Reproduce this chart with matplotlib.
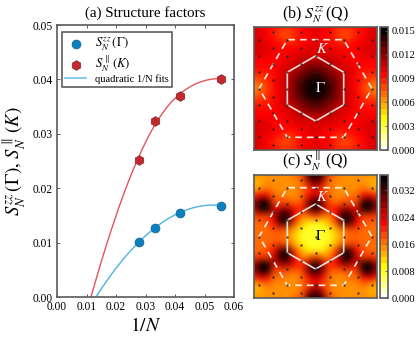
import numpy as np
import matplotlib
matplotlib.use('Agg')
import matplotlib.pyplot as plt
from matplotlib.lines import Line2D

plt.rcParams['font.family'] = ['Liberation Serif', 'DejaVu Serif']
plt.rcParams['mathtext.fontset'] = 'stix'

inv_n = [0.0278, 0.0333, 0.0417, 0.0556]
s_zz = [0.0101, 0.0127, 0.0155, 0.0168]
s_par = [0.0252, 0.0323, 0.0370, 0.0400]
fit_zz_x = [0.0132, 0.015, 0.017, 0.019, 0.021, 0.023, 0.025, 0.027, 0.029, 0.031, 0.033, 0.035,
            0.037, 0.039, 0.041, 0.043, 0.045, 0.047, 0.049, 0.051, 0.053, 0.0556]
fit_zz_y = [0.0, 0.00149, 0.00307, 0.00457, 0.00597, 0.0073, 0.00853, 0.00969, 0.01075, 0.01174,
            0.01263, 0.01344, 0.01417, 0.01481, 0.01536, 0.01583, 0.01622, 0.01652, 0.01673,
            0.01686, 0.0169, 0.01683]
fit_par_x = [0.0115, 0.013, 0.015, 0.017, 0.019, 0.021, 0.023, 0.025, 0.027, 0.029, 0.031, 0.033,
             0.035, 0.037, 0.039, 0.041, 0.043, 0.045, 0.047, 0.049, 0.051, 0.053, 0.0556]
fit_par_y = [0.0, 0.0028, 0.0065, 0.0100, 0.0133, 0.0165, 0.0195, 0.0223, 0.0249, 0.0273, 0.0295,
             0.0315, 0.0332, 0.0347, 0.0360, 0.0370, 0.0379, 0.0386, 0.0392, 0.0396, 0.0399,
             0.0401, 0.0401]

# one quadrant of each map, in units of 0.001: row = |qy|, column = |qx|
map_b = [
    [15.5, 15.2, 14.2, 12.8, 11.4, 10.3, 9.3, 8.3, 7.3, 6.8],
    [15.2, 14.8, 13.9, 12.6, 11.3, 10.3, 9.4, 8.6, 7.8, 7.3],
    [14.2, 13.8, 13.0, 12.0, 11.0, 10.2, 9.6, 9.2, 8.8, 8.6],
    [12.8, 12.5, 12.0, 11.3, 10.6, 10.1, 9.8, 9.7, 9.6, 9.5],
    [11.4, 11.3, 11.0, 10.6, 10.2, 10.0, 9.9, 9.9, 9.9, 9.9],
    [10.4, 10.3, 10.2, 10.1, 9.9, 9.8, 9.9, 10.1, 10.2, 10.2],
    [10.2, 10.1, 10.0, 9.8, 9.4, 9.4, 9.7, 10.1, 10.3, 10.4],
    [10.1, 10.0, 9.6, 8.9, 8.2, 8.6, 9.3, 9.9, 10.3, 10.4],
    [10.2, 10.0, 9.5, 8.7, 7.8, 8.4, 9.2, 9.9, 10.3, 10.4],
    [10.3, 10.2, 9.8, 9.2, 8.7, 9.0, 9.5, 10.0, 10.3, 10.4],
]
map_c = [
    [7.5, 7.5, 9.0, 12.0, 16.0, 18.0, 18.0, 17.5, 17.0, 17.0],
    [7.5, 8.0, 10.0, 13.0, 17.0, 19.0, 18.5, 18.0, 17.5, 17.0],
    [9.0, 10.0, 13.0, 19.0, 32.0, 34.0, 22.0, 18.5, 18.0, 17.5],
    [21.0, 18.0, 15.5, 22.0, 37.0, 40.0, 26.0, 20.0, 21.0, 18.5],
    [36.0, 28.0, 21.0, 23.0, 29.0, 29.0, 23.0, 36.0, 39.0, 26.0],
    [40.0, 30.0, 20.0, 18.0, 19.0, 19.0, 20.0, 36.0, 39.0, 27.0],
    [27.0, 22.0, 18.0, 16.0, 16.0, 16.5, 18.0, 22.0, 24.0, 21.0],
    [24.0, 20.0, 17.0, 15.5, 15.0, 15.5, 16.0, 17.0, 15.0, 14.0],
    [32.0, 26.0, 18.0, 16.0, 15.0, 15.0, 15.0, 15.0, 14.0, 13.5],
    [42.0, 33.0, 20.0, 17.0, 16.0, 16.0, 16.0, 15.0, 15.0, 15.0],
]
vmax_b = 0.0155
vmax_c = 0.0365
ticks_b = [0.000, 0.003, 0.006, 0.009, 0.012, 0.015]
ticks_c = [0.000, 0.008, 0.016, 0.024, 0.032]
x_ticks = [0.00, 0.01, 0.02, 0.03, 0.04, 0.05, 0.06]
y_ticks = [0.00, 0.01, 0.02, 0.03, 0.04, 0.05]

W, H = 416, 341
def box(x0, y0, x1, y1):
    return [x0 / W, 1 - y1 / H, (x1 - x0) / W, (y1 - y0) / H]

SPINE = '#5a5a5a'
fig = plt.figure(figsize=(4.16, 3.41), dpi=100)

ax = fig.add_axes(box(57, 25, 234, 297))
BLUE, RED = '#0a7fc2', '#c5282f'
ax.plot(fit_zz_x, fit_zz_y, color='#4db3e0', lw=1.0, zorder=2)
ax.plot(fit_par_x, fit_par_y, color='#e0555c', lw=1.0, zorder=2)
ax.plot(inv_n, s_zz, 'o', ms=6.4, mfc=BLUE, mec='#1c5f86', mew=0.5, zorder=3)
ax.plot(inv_n, s_par, 'h', ms=7.0, mfc=RED, mec='#7d2a2e', mew=0.5, zorder=3)
ax.set_xlim(0, 0.06)
ax.set_ylim(0, 0.05)
ax.set_xticks(x_ticks)
ax.set_yticks(y_ticks)
ax.set_xticklabels(['%.2f' % v for v in x_ticks])
ax.set_yticklabels(['%.2f' % v for v in y_ticks])
ax.tick_params(direction='in', top=True, right=True, length=2.5, width=0.7,
               color=SPINE, labelsize=8.3, pad=3)
for s in ax.spines.values():
    s.set_color(SPINE)
    s.set_linewidth(1.2)
ax.set_xlabel(r'$1/N$', fontsize=14, labelpad=3)
ax.set_ylabel(r'$S_N^{zz}\,(\Gamma),\,S_N^{\parallel}\,(K)$', fontsize=13.5, labelpad=3)
ax.set_title('(a) Structure factors', fontsize=10.8, pad=6)
handles = [
    Line2D([], [], ls='', marker='o', ms=6.4, mfc=BLUE, mec='#1c5f86', mew=0.5),
    Line2D([], [], ls='', marker='h', ms=7.0, mfc=RED, mec='#7d2a2e', mew=0.5),
    Line2D([], [], color='#7cc7ea', lw=1.3),
]
leg = ax.legend(handles, [r'$S_N^{zz}\,(\Gamma)$', r'$S_N^{\parallel}\,(K)$', 'quadratic 1/N fits'],
                loc='upper left', bbox_to_anchor=(0.028, 0.973), borderaxespad=0,
                fontsize=7.6, fancybox=False, framealpha=1, edgecolor='#505050',
                handlelength=2.0, labelspacing=0.05, borderpad=0.3, handletextpad=0.85)
leg.get_frame().set_linewidth(1.1)
for t in leg.get_texts()[:2]:
    t.set_fontsize(9.2)

HALF = 3.78
STEP = HALF / 9
R_IN = 2.0
R_OUT = 2.0 * np.sqrt(3)

def unfold(q):
    q = np.array(q) * 0.001
    q = np.hstack([q[:, :0:-1], q])
    return np.vstack([q[:0:-1], q])

def heat(box_px, cbox_px, quad, vmax, ticks, title, gamma_col, kpos):
    a = fig.add_axes(box(*box_px))
    cmap = plt.get_cmap('hot_r', 20)
    e = 9.5 * STEP
    im = a.imshow(unfold(quad), cmap=cmap, vmin=0, vmax=vmax, origin='lower',
                  extent=[-e, e, -e, e], interpolation='bicubic',
                  interpolation_stage='rgba', aspect='auto')
    a.set_xlim(-HALF, HALF)
    a.set_ylim(-HALF, HALF)
    a.set_xticks([])
    a.set_yticks([])
    for s in a.spines.values():
        s.set_color(SPINE)
        s.set_linewidth(1.2)
    ang_in = np.radians(np.arange(30, 391, 60))
    a.plot(R_IN * np.cos(ang_in), R_IN * np.sin(ang_in), color='white', alpha=0.85, lw=1.2)
    ang_out = np.radians(np.arange(0, 361, 60))
    a.plot(R_OUT * np.cos(ang_out), R_OUT * np.sin(ang_out), color='white', alpha=0.9,
           lw=1.2, dashes=(4, 3))
    pts = []
    for i in range(-8, 9):
        for j in range(-8, 9):
            px, py = i * np.sqrt(3) / 2, j + i / 2
            if abs(px) < HALF and abs(py) < HALF:
                pts.append((px, py))
    pts = np.array(pts)
    a.scatter(pts[:, 0], pts[:, 1], s=3.0, color='#222222', alpha=0.8, linewidths=0, zorder=3)
    a.text(0.3, 0, r'$\Gamma$', color=gamma_col, fontsize=11, ha='center', va='center', zorder=4)
    a.text(kpos[0], kpos[1], r'$K$', color='white', fontsize=11, ha='center', va='center', zorder=4)
    a.set_title(title, fontsize=11.5, pad=6)
    c = fig.add_axes(box(*cbox_px))
    cb = fig.colorbar(im, cax=c, ticks=ticks)
    cb.ax.set_yticklabels(['%.3f' % t for t in ticks])
    cb.ax.tick_params(direction='in', length=2, width=0.6, color=SPINE, labelsize=7.6, pad=2.5)
    cb.outline.set_edgecolor(SPINE)
    cb.outline.set_linewidth(1.2)
    cb.solids.set_edgecolor('face')

heat((254, 27, 377, 150), (380, 27, 388, 150), map_b, vmax_b, ticks_b,
     r'(b) $S_N^{zz}\,$(Q)', 'white', (0.45, 2.45))
heat((254, 175, 377, 298), (380, 175, 388, 298), map_c, vmax_c, ticks_c,
     r'(c) $S_N^{\parallel}\,$(Q)', 'black', (0.45, 2.45))

fig.savefig('out.png', dpi=100)
